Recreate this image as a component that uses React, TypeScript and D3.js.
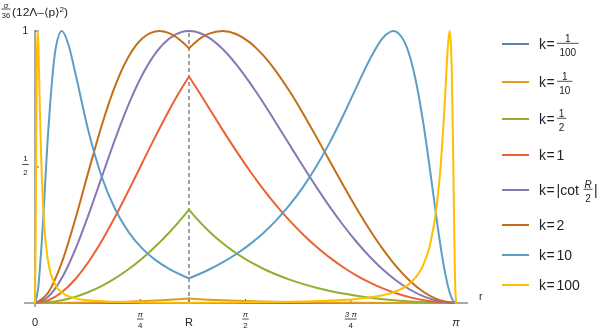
import * as d3 from "d3";

// boundary radius R (dashed line) and the r domain
const R = 1.149;
const PI = 3.1416;

// [r, value] readings for each k
const k1_100 = [[0, 0], [0.5, 0.00003], [R, 0.00017], [1.8, 0.00004], [2.5, 0.00001], [PI, 0]];
const k1_10 = [[0, 0], [0.3, 0.0009], [0.6, 0.0038], [0.9, 0.0093], [R, 0.0166], [1.4, 0.0098], [1.7, 0.0054], [2.0, 0.0029], [2.4, 0.0011], [2.8, 0.0002], [PI, 0]];
const k1_2 = [[0, 0], [0.1, 0.0025], [0.2, 0.01], [0.3, 0.0226], [0.4, 0.0403], [0.5, 0.0631], [0.6, 0.0913], [0.7, 0.1248], [0.8, 0.1638], [0.9, 0.2084], [1.0, 0.2584], [1.1, 0.3141], [R, 0.3435], [1.2, 0.3139], [1.3, 0.2628], [1.5, 0.1835], [1.7, 0.1269], [1.9, 0.086], [2.1, 0.0562], [2.3, 0.0346], [2.5, 0.0192], [2.7, 0.0088], [2.9, 0.0026], [PI, 0]];
const k1 = [[0, 0], [0.1, 0.01], [0.2, 0.0395], [0.3, 0.0873], [0.4, 0.1517], [0.5, 0.2299], [0.6, 0.3188], [0.7, 0.415], [0.8, 0.5146], [0.9, 0.6136], [1.0, 0.7081], [1.1, 0.7942], [R, 0.8323], [1.2, 0.794], [1.3, 0.7154], [1.4, 0.6366], [1.5, 0.5603], [1.6, 0.488], [1.7, 0.4208], [1.8, 0.359], [1.9, 0.3027], [2.0, 0.2521], [2.1, 0.2068], [2.2, 0.1667], [2.3, 0.1314], [2.4, 0.1009], [2.5, 0.0747], [2.6, 0.0528], [2.7, 0.0348], [2.8, 0.0207], [2.9, 0.0103], [3.0, 0.0035], [PI, 0]];
const kCot = [[0, 0], [0.1, 0.0236], [0.2, 0.0915], [0.3, 0.1959], [0.4, 0.3252], [0.5, 0.4658], [0.6, 0.6051], [0.7, 0.732], [0.8, 0.8383], [0.9, 0.9189], [1.0, 0.9717], [1.1, 0.997], [R, 1], [1.2, 0.997], [1.3, 0.9747], [1.4, 0.9339], [1.5, 0.8785], [1.6, 0.8123], [1.7, 0.7388], [1.8, 0.661], [1.9, 0.5815], [2.0, 0.5026], [2.1, 0.4261], [2.2, 0.3535], [2.3, 0.2858], [2.4, 0.2242], [2.5, 0.1692], [2.6, 0.1213], [2.7, 0.0811], [2.8, 0.0487], [2.9, 0.0244], [3.0, 0.0084], [PI, 0]];
const k2 = [[0, 0], [0.1, 0.0393], [0.2, 0.1488], [0.3, 0.3067], [0.4, 0.4849], [0.5, 0.6561], [0.6, 0.8007], [0.7, 0.9071], [0.8, 0.9724], [0.927, 1], [1.0, 0.9922], [1.1, 0.9595], [R, 0.936], [1.2, 0.9597], [1.25, 0.9782], [1.3, 0.9905], [1.4, 1], [1.5, 0.989], [1.6, 0.9591], [1.7, 0.9121], [1.8, 0.8509], [1.9, 0.7782], [2.0, 0.6971], [2.1, 0.6104], [2.2, 0.5215], [2.3, 0.4328], [2.4, 0.3474], [2.5, 0.2675], [2.6, 0.1951], [2.7, 0.1322], [2.8, 0.0803], [2.9, 0.0406], [3.0, 0.014], [PI, 0]];
const k10 = [[0, 0], [0.025, 0.0606], [0.05, 0.2215], [0.1, 0.6406], [0.15, 0.9224], [0.2, 1], [0.25, 0.9497], [0.3, 0.8473], [0.4, 0.6296], [0.5, 0.4613], [0.6, 0.3427], [0.7, 0.2599], [0.8, 0.2007], [0.9, 0.1576], [1.0, 0.1255], [1.1, 0.101], [R, 0.091], [1.2, 0.101], [1.3, 0.1232], [1.4, 0.1491], [1.5, 0.1793], [1.6, 0.2146], [1.7, 0.2557], [1.8, 0.3039], [1.9, 0.3604], [2.0, 0.4262], [2.1, 0.5027], [2.2, 0.5905], [2.3, 0.6894], [2.4, 0.7946], [2.5, 0.8974], [2.6, 0.9772], [2.675, 1], [2.75, 0.9667], [2.8, 0.902], [2.85, 0.7971], [2.9, 0.6537], [2.95, 0.4808], [3.0, 0.2985], [3.05, 0.1374], [3.1, 0.03], [3.12, 0.0082], [PI, 0]];
const k100 = [[0, 0], [0.005, 0.2215], [0.01, 0.64], [0.015, 0.9216], [0.02, 1], [0.025, 0.9518], [0.03, 0.852], [0.04, 0.64], [0.05, 0.4756], [0.07, 0.2791], [0.1, 0.1477], [0.15, 0.0685], [0.2, 0.039], [0.3, 0.0174], [0.4, 0.0097], [0.6, 0.0042], [0.8, 0.0022], [1.0, 0.0013], [R, 0.001], [1.5, 0.002], [2.0, 0.0055], [2.2, 0.0088], [2.4, 0.0149], [2.6, 0.0291], [2.7, 0.0441], [2.8, 0.0736], [2.9, 0.1431], [2.95, 0.2187], [3.0, 0.3652], [3.03, 0.5217], [3.05, 0.6708], [3.07, 0.8514], [3.08, 0.9373], [3.094, 1], [3.105, 0.933], [3.115, 0.7236], [3.125, 0.3853], [3.133, 0.1217], [PI, 0]];

const seriesData = [k1_100, k1_10, k1_2, k1, kCot, k2, k10, k100];
const colors = ["#5E81B5", "#E19C24", "#8FB032", "#EB6235", "#8778B3", "#C56E1A", "#5D9EC7", "#FFBF00"];
const legendLabels = [
  { rest: "", num: "1", den: "100" },
  { rest: "", num: "1", den: "10" },
  { rest: "", num: "1", den: "2" },
  { rest: "1" },
  { rest: "|cot", num: "R", den: "2", post: "|" },
  { rest: "2" },
  { rest: "10" },
  { rest: "100" },
];

const xTickValues = [0, Math.PI / 4, R, Math.PI / 2, (3 * Math.PI) / 4, Math.PI];
const xTickLabels = [["0"], ["π", "4"], ["R"], ["π", "2"], ["3 π", "4"], ["π"]];
const yTickValues = [0.5, 1];
const yTickLabels = [["1", "2"], ["1"]];

const width = 612;
const height = 332;
const font = "'Liberation Sans', Arial, Helvetica, sans-serif";
const axisColor = "#555";

function Frac({ x, y, num, den, size, w, italicNum = false, numGap = 2, denGap = 8 }) {
  return (
    <g>
      <text x={x} y={y - numGap} textAnchor="middle" fontSize={size} fontStyle={italicNum ? "italic" : "normal"}>{num}</text>
      <line x1={x - w / 2} x2={x + w / 2} y1={y} y2={y} stroke="#222" strokeWidth={0.8} />
      <text x={x} y={y + denGap} textAnchor="middle" fontSize={size}>{den}</text>
    </g>
  );
}

export default function App() {
  const x = d3.scaleLinear([0, Math.PI], [35, 456]);
  const y = d3.scaleLinear([0, 1], [303, 31]);
  const line = d3.line().x((d) => x(d[0])).y((d) => y(d[1])).curve(d3.curveMonotoneX);

  const legendY = [44, 82, 119, 155, 190, 225, 255, 285];

  return (
    <svg width={width} height={height} style={{ position: "fixed", left: 0, top: 0 }} fontFamily={font} fill="#222">
      {/* dashed marker at R */}
      <line x1={x(R)} x2={x(R)} y1={y(0)} y2={y(1)} stroke="#555" strokeWidth={1.1} strokeDasharray="4,3" />

      {/* axes */}
      <line x1={24} x2={468} y1={y(0)} y2={y(0)} stroke={axisColor} strokeWidth={1} />
      <line x1={x(0)} x2={x(0)} y1={y(0) + 4} y2={y(1) - 1} stroke={axisColor} strokeWidth={1} />
      {xTickValues.map((v, i) => (
        <line key={"xt" + i} x1={x(v)} x2={x(v)} y1={y(0)} y2={y(0) - 4} stroke={axisColor} />
      ))}
      {yTickValues.map((v, i) => (
        <line key={"yt" + i} x1={x(0)} x2={x(0) + 4} y1={y(v)} y2={y(v)} stroke={axisColor} />
      ))}

      {/* x tick labels */}
      {xTickLabels.map((lab, i) =>
        lab.length === 1 ? (
          <text key={"xl" + i} x={x(xTickValues[i])} y={326} textAnchor="middle" fontSize={11}
            fontStyle={lab[0] === "π" ? "italic" : "normal"}>{lab[0]}</text>
        ) : (
          <Frac key={"xl" + i} x={x(xTickValues[i])} y={319} num={lab[0]} den={lab[1]} size={8} w={lab[0].length > 1 ? 12 : 6.5} numGap={1.8} denGap={8.6} italicNum={true} />
        )
      )}
      {/* y tick labels */}
      {yTickLabels.map((lab, i) =>
        lab.length === 1 ? (
          <text key={"yl" + i} x={28} y={y(yTickValues[i]) + 3} textAnchor="end" fontSize={10}>{lab[0]}</text>
        ) : (
          <Frac key={"yl" + i} x={25.5} y={y(yTickValues[i]) - 2.5} num={lab[0]} den={lab[1]} size={8} w={6.5} numGap={4} denGap={10.5} />
        )
      )}
      <text x={479} y={300} fontSize={10.5}>r</text>

      {/* axis title */}
      <Frac x={6} y={9} num="σ" den="36" size={7.5} w={9} numGap={1.5} denGap={8.5} italicNum={true} />
      <text x={12} y={16} fontSize={11} textLength={56} lengthAdjust="spacingAndGlyphs">
        (12Λ–⟨p⟩<tspan dy={-4} fontSize={7.5}>2</tspan><tspan dy={4}>)</tspan>
      </text>

      {/* curves, split at R so the kink stays sharp */}
      {seriesData.map((data, i) => {
        const left = data.filter((d) => d[0] <= R);
        const right = data.filter((d) => d[0] >= R);
        return (
          <g key={"s" + i} fill="none" stroke={colors[i]} strokeWidth={2} strokeLinejoin="round" strokeLinecap="round">
            <path d={line(left)} />
            <path d={line(right)} />
          </g>
        );
      })}

      {/* legend */}
      {legendLabels.map((lab, i) => {
        const ly = legendY[i];
        const fw = lab.den ? lab.den.length * 6.2 + 3 : 0;
        return (
          <g key={"lg" + i}>
            <line x1={502} x2={529} y1={ly} y2={ly} stroke={colors[i]} strokeWidth={2} />
            <text x={539} y={ly + 4.8} fontSize={14}>k</text>
            <text x={546.5} y={ly + 4.8} fontSize={14}>=</text>
            {lab.rest && <text x={556.5} y={ly + 4.8} fontSize={14}>{lab.rest}</text>}
            {lab.num && !lab.post && (
              <Frac x={557 + fw / 2} y={ly - 0.7} num={lab.num} den={lab.den} size={10} w={fw} numGap={1.8} denGap={13} />
            )}
            {lab.post && (
              <g>
                <Frac x={588} y={ly - 0.7} num={lab.num} den={lab.den} size={10} w={9} numGap={1.8} denGap={13} italicNum={true} />
                <text x={594} y={ly + 4.8} fontSize={14}>{lab.post}</text>
              </g>
            )}
          </g>
        );
      })}
    </svg>
  );
}
